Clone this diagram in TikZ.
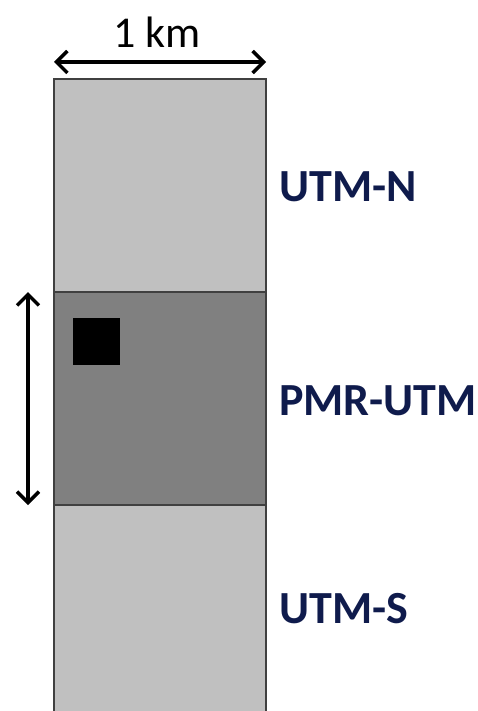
\documentclass[tikz,border=0pt]{standalone}
\usepackage{fontspec}
\setmainfont{Carlito}
\usetikzlibrary{arrows.meta}
\definecolor{bandlight}{HTML}{C0C0C0}
\definecolor{banddark}{HTML}{808080}
\definecolor{labelblue}{HTML}{0F1B4C}
\tikzset{
  band/.style={draw=black!75, line width=1.2pt},
  zonelabel/.style={anchor=west, text=labelblue, font=\fontsize{46}{48}\selectfont\bfseries, inner sep=0pt},
  barb/.tip={Straight Barb[length=11pt,width=22pt,line width=3.4pt]},
  dimarrow/.style={line width=3.4pt, barb-barb}
}
\begin{document}
\begin{tikzpicture}[x=1pt,y=-1pt]
  \useasboundingbox (0,0) rectangle (477,711);
  % three stacked zones
  \path[band, fill=bandlight] (54,79) rectangle (266,292);
  \path[band, fill=banddark] (54,292) rectangle (266,505);
  \path[fill=bandlight] (54,505) rectangle (266,711);
  \draw[black!75, line width=1.2pt] (54,711) -- (54,505) -- (266,505) -- (266,711);
  % small cell
  \node[fill=black, minimum width=47pt, minimum height=47pt, inner sep=0pt, anchor=north west] (cell) at (73,318) {};
  % end points of the dimension arrows
  \coordinate (wl) at (54,62);
  \coordinate (wr) at (266,62);
  \coordinate (ht) at (28,292);
  \coordinate (hb) at (28,505);
  \draw[dimarrow] (wl) -- (wr);
  \draw[dimarrow] (ht) -- (hb);
  \node[font=\fontsize{44}{46}\selectfont, inner sep=0pt] (width) at (157,32) {1 km};
  % zone labels
  \node[zonelabel] (utmn) at (279,187) {UTM-N};
  \node[zonelabel] (pmr) at (279,401) {PMR-UTM};
  \node[zonelabel] (utms) at (279,609) {UTM-S};
\end{tikzpicture}
\end{document}
